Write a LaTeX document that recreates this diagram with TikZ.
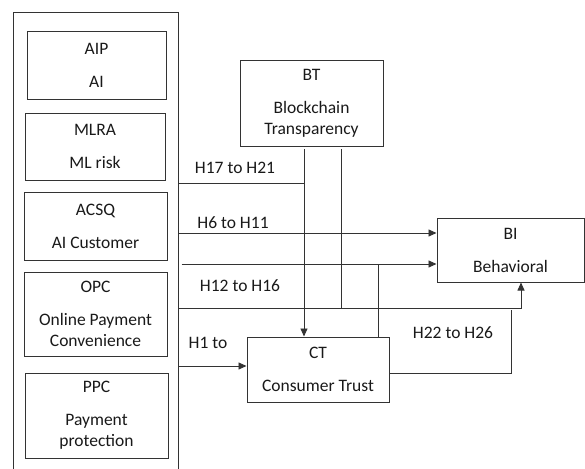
\documentclass[tikz,border=0pt]{standalone}
\usepackage{fontspec}
\setmainfont{Carlito}
\usetikzlibrary{arrows.meta}
\begin{document}
\begin{tikzpicture}[x=1pt,y=-1pt,
  every node/.style={font=\fontsize{17.5}{21}\selectfont, text=black!90},
  box/.style={draw=black!80, line width=1pt, inner sep=0pt, align=center},
  link/.style={draw=black!80, line width=0.9pt},
  arr/.style={link, -{Triangle[length=8pt,width=7pt]}},
  lbl/.style={inner sep=0pt}
]
\useasboundingbox (0,0) rectangle (585,468);
\clip (0,0) rectangle (585,468);

% frame holding the predictor constructs
\node[box, minimum width=165pt, minimum height=467pt] (frame) at (95.5,246.5) {};

\node[box, minimum width=139pt, minimum height=67pt] (aip)  at (96.5,65.5)  {AIP\\[12pt]AI};
\node[box, minimum width=140pt, minimum height=67pt] (mlra) at (95,146.5)   {MLRA\\[12pt]ML risk};
\node[box, minimum width=143pt, minimum height=68pt] (acsq) at (95.5,226)   {ACSQ\\[12pt]AI Customer};
\node[box, minimum width=143pt, minimum height=84pt] (opc)  at (95.5,314)   {OPC\\[12pt]Online Payment\\Convenience};
\node[box, minimum width=143pt, minimum height=85pt] (ppc)  at (96.5,415.5) {PPC\\[12pt]Payment\\protection};

% mediator, moderator and outcome
\node[box, minimum width=143pt, minimum height=85pt] (bt) at (311.5,103.5) {BT\\[12pt]Blockchain\\Transparency};
\node[box, minimum width=147pt, minimum height=64pt] (bi) at (510.5,250)   {BI\\[12pt]Behavioral};
\node[box, minimum width=142pt, minimum height=65pt] (ct) at (318,369.5)   {CT\\[12pt]Consumer Trust};

% drop lines from BT
\coordinate (v1) at (304,149);
\coordinate (v2) at (341,149);
\coordinate (v3) at (378,264);
\draw[arr]  (v1) -- (v1 |- ct.north);
\draw[link] (v2) -- (v2 |- 0,308);
\draw[link] (v3) -- (v3 |- ct.north);

% paths from the predictors
\draw[link] (frame.east |- 0,183) -- (v1 |- 0,183);
\draw[arr]  (frame.east |- 0,233) -- (bi.west |- 0,233);
\draw[arr]  ([xshift=3pt]frame.east |- 0,264) -- (bi.west |- 0,264);
\draw[arr]  (frame.east |- 0,308) -| ([xshift=10.5pt]bi.south);
\draw[arr]  (frame.east |- 0,366) -- (ct.west |- 0,366);
\draw[link] (ct.east |- 0,373) -| (511,310);

% hypothesis labels
\node[lbl] (h17) at (235,168) {H17 to H21};
\node[lbl] (h6)  at (233,223) {H6 to H11};
\node[lbl] (h12) at (240,286) {H12 to H16};
\node[lbl] (h1)  at (208,343) {H1 to};
\node[lbl] (h22) at (453,333) {H22 to H26};
\end{tikzpicture}
\end{document}
